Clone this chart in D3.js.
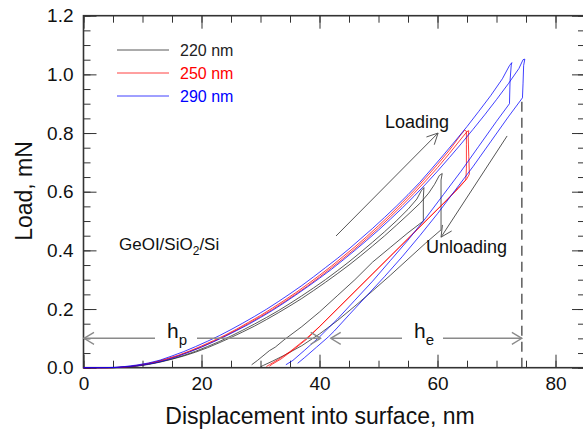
<!DOCTYPE html>
<html>
<head>
<meta charset="utf-8">
<script src="https://cdn.jsdelivr.net/npm/d3@7"></script>
<style>
  body { margin: 0; background: #fff; }
  text { font-family: "Liberation Sans", Arial, sans-serif; }
</style>
</head>
<body>
<svg id="chart" width="583" height="431"></svg>
<script>
// series labels + colours
var seriesNames = ['220 nm', '250 nm', '290 nm'];
var seriesColors = ['#222222', '#ff0000', '#0000ff'];

// load-displacement curves [depth nm, load mN], two indents per film
var curve220a = [[0,0],[5,0],[7,0.002],[9,0.006],[11,0.012],[13,0.02],[15,0.03],[17,0.042],[19,0.056],[21,0.072],[23,0.089],[25,0.108],[27,0.128],[29,0.149],[31,0.171],[33,0.194],[35,0.219],[37,0.245],[39,0.272],[41,0.3],[43,0.33],[45,0.361],[47,0.394],[49,0.428],[51,0.463],[53,0.5],[55,0.54],[56.5,0.575],[57.3,0.605],[57.7,0.614],[57.6,0.58],[57.6,0.5],
  [55,0.46],[52,0.41],[49,0.36],[46,0.3],[43,0.245],[40,0.19],[37,0.14],[34,0.095],[32.5,0.07],[31.5,0.058],[29.5,0.025],[28.5,0.01]];
var curve220b = [[0,0],[5,0],[7,0.002],[9,0.005],[11,0.011],[13,0.019],[15,0.029],[17,0.04],[19,0.053],[21,0.068],[23,0.085],[25,0.103],[27,0.122],[29,0.142],[31,0.164],[33,0.187],[35,0.211],[37,0.236],[39,0.263],[41,0.291],[43,0.32],[45,0.35],[47,0.382],[49,0.415],[51,0.449],[53,0.485],[55,0.522],[57,0.56],[58.5,0.595],[59.5,0.625],[60.3,0.655],[60.8,0.662],[60.6,0.64],[60.6,0.55],[60.6,0.47],
  [58,0.425],[55,0.37],[52,0.315],[49,0.262],[46,0.21],[43,0.16],[40,0.115],[37,0.075],[34,0.042],[32,0.022],[30.5,0.008],[30,0.003]];
var curve250a = [[0,0],[4,0],[6,0.001],[8,0.004],[10,0.01],[12,0.018],[14,0.028],[16,0.04],[18,0.055],[20,0.071],[22,0.089],[24,0.108],[26,0.129],[28,0.151],[30,0.174],[32,0.198],[34,0.224],[36,0.251],[38,0.279],[40,0.309],[42,0.34],[44,0.372],[46,0.405],[48,0.44],[50,0.476],[52,0.514],[54,0.553],[56,0.594],[58,0.637],[60,0.682],[62,0.73],[64,0.78],[65,0.805],[65.3,0.808],[65.2,0.79],[65.3,0.72],[65.4,0.66],[65,0.645],
  [63.5,0.61],[61,0.56],[58,0.5],[55,0.44],[52,0.38],[49,0.32],[46,0.26],[43,0.2],[40,0.14],[37.5,0.095],[35,0.055],[33,0.028],[31.5,0.01],[31,0.004]];
var curve250b = [[0,0],[4,0],[6,0.001],[8,0.005],[10,0.011],[12,0.019],[14,0.03],[16,0.042],[18,0.057],[20,0.074],[22,0.092],[24,0.111],[26,0.132],[28,0.155],[30,0.178],[32,0.203],[34,0.229],[36,0.256],[38,0.285],[40,0.315],[42,0.346],[44,0.379],[46,0.412],[48,0.447],[50,0.484],[52,0.522],[54,0.562],[56,0.603],[58,0.647],[60,0.693],[62,0.741],[63.8,0.79],[64.6,0.81],[64.9,0.806],[64.9,0.76],[64.9,0.68],[64.8,0.64],
  [63.8,0.62],[61.5,0.57],[58.5,0.51],[55.5,0.45],[52.5,0.39],[49.5,0.33],[46.5,0.27],[43.5,0.21],[40.5,0.15],[38,0.1],[35.5,0.06],[33.5,0.03],[32,0.012],[31.5,0.005]];
var curve290a = [[0,0],[3,0],[5,0.001],[7,0.004],[9,0.009],[11,0.016],[13,0.026],[15,0.04],[17,0.055],[19,0.072],[21,0.09],[23,0.109],[25,0.13],[27,0.152],[29,0.175],[31,0.199],[33,0.225],[35,0.252],[37,0.28],[39,0.31],[41,0.341],[43,0.372],[45,0.405],[47,0.44],[49,0.475],[51,0.512],[53,0.55],[55,0.59],[57,0.632],[59,0.678],[61,0.725],[63,0.773],[65,0.822],[67,0.874],[69,0.927],[71,0.985],[72.2,1.03],[72.6,1.04],[72.5,1.032],[72.3,0.98],[72.2,0.9],
  [70,0.84],[67,0.755],[64,0.67],[61,0.59],[58,0.51],[55,0.435],[52,0.365],[49,0.295],[46,0.23],[43,0.165],[40,0.105],[37.5,0.06],[35.5,0.025],[34.3,0.01]];
var curve290b = [[0,0],[4,0],[6,0.001],[8,0.004],[10,0.009],[12,0.016],[14,0.026],[16,0.039],[18,0.054],[20,0.07],[22,0.088],[24,0.107],[26,0.127],[28,0.148],[30,0.171],[32,0.195],[34,0.221],[36,0.248],[38,0.276],[40,0.305],[42,0.335],[44,0.367],[46,0.4],[48,0.434],[50,0.469],[52,0.506],[54,0.544],[56,0.584],[58,0.626],[60,0.67],[62,0.716],[64,0.763],[66,0.812],[68,0.862],[70,0.914],[72,0.968],[73.8,1.02],[74.5,1.05],[74.8,1.052],[74.6,1.03],[74.5,0.97],[74.4,0.92],
  [72,0.855],[69,0.77],[66,0.685],[63,0.605],[60,0.525],[57,0.45],[54,0.378],[51,0.31],[48,0.245],[45,0.18],[42.5,0.125],[41.5,0.105],[39.5,0.07],[37.5,0.035],[36.3,0.015]];

var curves = [
  {s: 0, pts: curve220a}, {s: 0, pts: curve220b},
  {s: 1, pts: curve250a}, {s: 1, pts: curve250b},
  {s: 2, pts: curve290a}, {s: 2, pts: curve290b}
];

// axis ticks
var xMajor = [0, 20, 40, 60, 80];
var yMajor = [0, 0.2, 0.4, 0.6, 0.8, 1.0, 1.2];

// annotation geometry in data units
var hLoad = 0.1;
var hpRange = [0, 40.2];
var heRange = [41.9, 74.3];
var dashX = 74.3, dashTop = 0.91;
var loadArrow = [[42.8, 0.449], [60.1, 0.80]];
var unloadArrow = [[71.8, 0.79], [60.6, 0.445]];

var svg = d3.select('#chart');
var pLeft = 83.5, pRight = 585, pTop = 15.7, pBottom = 367.7;

var x = d3.scaleLinear().domain([0, 85]).range([pLeft, pRight]);
var y = d3.scaleLinear().domain([0, 1.2]).range([pBottom, pTop]);

var xMinor = d3.range(0, 86, 5);
var yMinor = d3.range(0, 1.21, 0.05);

function ticks(axisFn, scale, vals, size, labels, pad) {
  var a = axisFn(scale).tickValues(vals).tickSize(-size).tickPadding(pad || 0);
  if (!labels) a.tickFormat('');
  else a.tickFormat(labels);
  return a;
}

var fmtY = d3.format('.1f');

// minor ticks
svg.append('g').attr('transform', 'translate(0,' + pBottom + ')').call(ticks(d3.axisBottom, x, xMinor, 7));
svg.append('g').attr('transform', 'translate(0,' + pTop + ')').call(ticks(d3.axisTop, x, xMinor, 7));
svg.append('g').attr('transform', 'translate(' + pLeft + ',0)').call(ticks(d3.axisLeft, y, yMinor, 7));
svg.append('g').attr('transform', 'translate(' + pRight + ',0)').call(ticks(d3.axisRight, y, yMinor, 7));
// major ticks + labels
svg.append('g').attr('class', 'lab').attr('transform', 'translate(0,' + pBottom + ')').call(ticks(d3.axisBottom, x, xMajor, 13, d3.format('d'), 9));
svg.append('g').attr('transform', 'translate(0,' + pTop + ')').call(ticks(d3.axisTop, x, xMajor, 13));
svg.append('g').attr('class', 'lab').attr('transform', 'translate(' + pLeft + ',0)').call(ticks(d3.axisLeft, y, yMajor, 13, fmtY, 10));
svg.append('g').attr('transform', 'translate(' + pRight + ',0)').call(ticks(d3.axisRight, y, yMajor, 13));

svg.selectAll('.domain').remove();
svg.selectAll('.tick line').attr('stroke', '#333');
svg.selectAll('.lab text').style('font-size', '19px').attr('fill', '#111')
  .style('font-family', '"Liberation Sans", Arial, sans-serif');

svg.append('rect')
  .attr('x', pLeft).attr('y', pTop)
  .attr('width', pRight - pLeft).attr('height', pBottom - pTop)
  .attr('fill', 'none').attr('stroke', '#333').attr('stroke-width', 1.6);

// curves
var line = d3.line().x(function (d) { return x(d[0]); }).y(function (d) { return y(d[1]); });
svg.append('g').selectAll('path')
  .data(curves)
  .enter()
  .append('path')
  .attr('d', function (d) { return line(d.pts); })
  .attr('fill', 'none')
  .attr('stroke', function (d) { return seriesColors[d.s]; })
  .attr('stroke-width', 1)
  .attr('stroke-opacity', 0.75)
  .attr('stroke-linejoin', 'round');

// open arrow head helper
function head(g, x1, y1, x2, y2, len, half, col, w) {
  var dx = x2 - x1, dy = y2 - y1, L = Math.sqrt(dx * dx + dy * dy);
  var ux = dx / L, uy = dy / L;
  var bx = x2 - ux * len, by = y2 - uy * len;
  g.append('path')
    .attr('d', 'M' + (bx - uy * half) + ',' + (by + ux * half) + 'L' + x2 + ',' + y2 + 'L' + (bx + uy * half) + ',' + (by - ux * half))
    .attr('fill', 'none').attr('stroke', col).attr('stroke-width', w);
}

var ann = svg.append('g');
var hy = y(hLoad);
var gray = '#8a8a8a';

// h_p
ann.append('line').attr('x1', x(hpRange[0])).attr('x2', 155).attr('y1', hy).attr('y2', hy).attr('stroke', gray).attr('stroke-width', 1.5);
ann.append('line').attr('x1', 197).attr('x2', x(hpRange[1])).attr('y1', hy).attr('y2', hy).attr('stroke', gray).attr('stroke-width', 1.5);
head(ann, x(hpRange[0]) + 20, hy, x(hpRange[0]) + 0.5, hy, 10, 6, gray, 1.3);
head(ann, x(hpRange[1]) - 20, hy, x(hpRange[1]), hy, 10, 6, gray, 1.3);
// h_e
ann.append('line').attr('x1', x(heRange[0])).attr('x2', 402).attr('y1', hy).attr('y2', hy).attr('stroke', gray).attr('stroke-width', 1.5);
ann.append('line').attr('x1', 443).attr('x2', x(heRange[1])).attr('y1', hy).attr('y2', hy).attr('stroke', gray).attr('stroke-width', 1.5);
head(ann, x(heRange[0]) + 20, hy, x(heRange[0]), hy, 10, 6, gray, 1.3);
head(ann, x(heRange[1]) - 20, hy, x(heRange[1]), hy, 10, 6, gray, 1.3);

function subLabel(px, base, sub) {
  var t = ann.append('text').attr('x', px).attr('y', hy).style('font-size', '21px').attr('fill', '#111');
  t.append('tspan').text(base);
  t.append('tspan').attr('dy', 7).style('font-size', '15px').text(sub);
}
subLabel(167, 'h', 'p');
subLabel(414, 'h', 'e');

// dashed line at max depth
ann.append('line')
  .attr('x1', x(dashX)).attr('x2', x(dashX))
  .attr('y1', y(0)).attr('y2', y(dashTop))
  .attr('stroke', '#333').attr('stroke-width', 1.2)
  .attr('stroke-dasharray', '10,6');

// loading / unloading arrows
[loadArrow, unloadArrow].forEach(function (a) {
  var x1 = x(a[0][0]), y1 = y(a[0][1]), x2 = x(a[1][0]), y2 = y(a[1][1]);
  ann.append('line').attr('x1', x1).attr('y1', y1).attr('x2', x2).attr('y2', y2)
    .attr('stroke', '#555').attr('stroke-width', 1);
  head(ann, x1, y1, x2, y2, 11, 5.5, '#555', 1);
});

ann.append('text').attr('x', 385).attr('y', 128).style('font-size', '18px').attr('fill', '#111').text('Loading');
ann.append('text').attr('x', 426).attr('y', 253).style('font-size', '18px').attr('fill', '#111').text('Unloading');

var film = ann.append('text').attr('x', 119).attr('y', 250).style('font-size', '17px').attr('fill', '#111');
film.append('tspan').text('GeOI/SiO');
film.append('tspan').attr('dy', 5).style('font-size', '12px').text('2');
film.append('tspan').attr('dy', -5).text('/Si');

// legend
var legend = svg.append('g').selectAll('g')
  .data(seriesNames)
  .enter()
  .append('g')
  .attr('transform', function (d, i) { return 'translate(0,' + (50 + i * 23) + ')'; });
legend.append('line').attr('x1', 117).attr('x2', 169).attr('y1', 0).attr('y2', 0)
  .attr('stroke', function (d, i) { return seriesColors[i]; }).attr('stroke-width', 1).attr('stroke-opacity', 0.75);
legend.append('text').attr('x', 180).attr('y', 6)
  .style('font-size', '16px')
  .attr('fill', function (d, i) { return seriesColors[i]; })
  .text(function (d) { return d; });

// axis titles
svg.append('text')
  .attr('x', 320).attr('y', 424)
  .attr('text-anchor', 'middle')
  .style('font-size', '23px').attr('fill', '#111')
  .text('Displacement into surface, nm');
svg.append('text')
  .attr('transform', 'translate(32,191) rotate(-90)')
  .attr('text-anchor', 'middle')
  .style('font-size', '23px').attr('fill', '#111')
  .text('Load, mN');
</script>
</body>
</html>
